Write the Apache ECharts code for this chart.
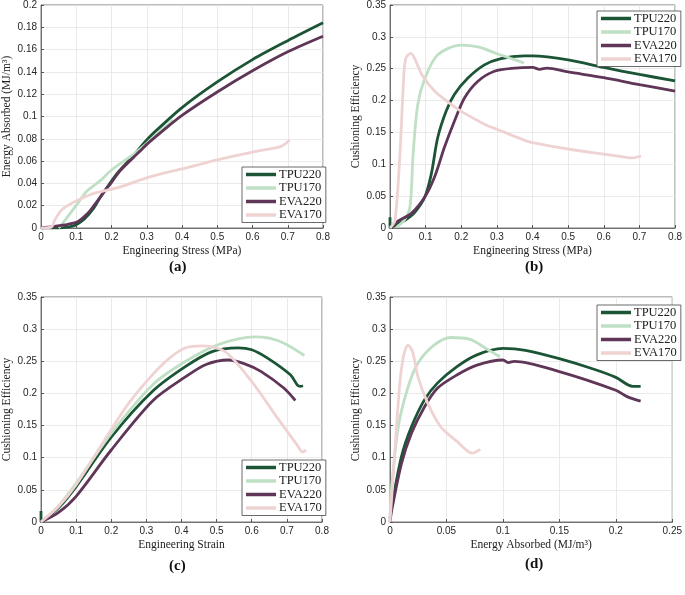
<!DOCTYPE html>
<html><head><meta charset="utf-8">
<script src="https://cdn.jsdelivr.net/npm/echarts@6/dist/echarts.min.js"></script>
<style>html,body{margin:0;padding:0;background:#fff}#c{width:685px;height:595px}</style>
</head><body><div id="c"></div>
<script>
const seriesNames = ['TPU220','TPU170','EVA220','EVA170'];
const panelLabels = ['(a)','(b)','(c)','(d)'];

// (a) Energy Absorbed vs Engineering Stress
const aTPU220 = [[0,0],[0.05,0],[0.08,0.001],[0.1,0.003],[0.123,0.008],[0.15,0.018],[0.169,0.028],[0.2,0.042],[0.215,0.0486],[0.262,0.065],[0.3,0.079],[0.336,0.09],[0.4,0.108],[0.5,0.131],[0.6,0.151],[0.7,0.168],[0.8,0.184]];
const aTPU170 = [[0.05,0],[0.058,0.0027],[0.08,0.012],[0.104,0.022],[0.13,0.033],[0.169,0.0427],[0.2,0.052],[0.262,0.066],[0.3,0.076],[0.327,0.084],[0.35,0.09],[0.375,0.097]];
const aEVA220 = [[0,0],[0.02,0.0008],[0.04,0.0015],[0.076,0.0033],[0.104,0.0056],[0.132,0.013],[0.15,0.02],[0.178,0.032],[0.2,0.041],[0.225,0.0516],[0.281,0.069],[0.3,0.075],[0.341,0.086],[0.4,0.101],[0.5,0.122],[0.6,0.141],[0.7,0.158],[0.8,0.172]];
const aEVA170 = [[0,0],[0.03,0.001],[0.039,0.0071],[0.058,0.016],[0.08,0.021],[0.104,0.0249],[0.15,0.031],[0.215,0.036],[0.3,0.045],[0.346,0.049],[0.4,0.053],[0.5,0.061],[0.6,0.068],[0.65,0.071],[0.68,0.073],[0.695,0.076],[0.705,0.079]];

// (b) Cushioning Efficiency vs Engineering Stress
const bTPU220 = [[0,0.017],[0,0],[0.02,0.006],[0.042,0.012],[0.07,0.025],[0.098,0.049],[0.116,0.085],[0.134,0.142],[0.158,0.184],[0.181,0.21],[0.218,0.235],[0.265,0.256],[0.311,0.266],[0.376,0.27],[0.4,0.27],[0.5,0.264],[0.6,0.252],[0.7,0.241],[0.8,0.231]];
const bTPU170 = [[0.02,0.002],[0.04,0.012],[0.056,0.033],[0.065,0.117],[0.078,0.194],[0.098,0.235],[0.134,0.272],[0.2,0.287],[0.25,0.284],[0.293,0.275],[0.34,0.266],[0.376,0.259]];
const bEVA220 = [[0,0],[0.02,0.01],[0.06,0.023],[0.098,0.049],[0.125,0.08],[0.153,0.127],[0.181,0.168],[0.209,0.204],[0.246,0.23],[0.293,0.246],[0.35,0.251],[0.4,0.252],[0.42,0.249],[0.44,0.251],[0.5,0.245],[0.6,0.236],[0.7,0.225],[0.8,0.215]];
const bEVA170 = [[0,0],[0.014,0.012],[0.028,0.117],[0.037,0.22],[0.044,0.266],[0.0585,0.274],[0.07,0.265],[0.09,0.24],[0.125,0.215],[0.172,0.194],[0.2,0.183],[0.265,0.163],[0.3,0.155],[0.376,0.138],[0.4,0.134],[0.5,0.124],[0.6,0.116],[0.65,0.112],[0.68,0.11],[0.705,0.113]];

// (c) Cushioning Efficiency vs Engineering Strain
const cTPU220 = [[0,0.017],[0,0],[0.05,0.022],[0.1,0.055],[0.2,0.132],[0.319,0.204],[0.412,0.242],[0.487,0.265],[0.561,0.271],[0.6,0.268],[0.645,0.255],[0.71,0.229],[0.73,0.213],[0.738,0.211],[0.746,0.212]];
const cTPU170 = [[0,0],[0.05,0.025],[0.1,0.06],[0.2,0.138],[0.319,0.214],[0.412,0.25],[0.505,0.276],[0.608,0.288],[0.65,0.286],[0.692,0.278],[0.75,0.259]];
const cEVA220 = [[0,0],[0.05,0.015],[0.1,0.04],[0.2,0.112],[0.319,0.189],[0.412,0.226],[0.47,0.245],[0.533,0.252],[0.58,0.246],[0.627,0.234],[0.692,0.208],[0.724,0.189]];
const cEVA170 = [[0,0],[0.05,0.024],[0.1,0.058],[0.2,0.144],[0.25,0.185],[0.319,0.23],[0.366,0.255],[0.412,0.271],[0.459,0.274],[0.524,0.265],[0.599,0.219],[0.673,0.162],[0.729,0.12],[0.745,0.109],[0.755,0.112]];

// (d) Cushioning Efficiency vs Energy Absorbed
const dTPU220 = [[0,0.005],[0.0015,0.024],[0.0102,0.102],[0.019,0.148],[0.0305,0.19],[0.042,0.216],[0.0596,0.242],[0.077,0.26],[0.1,0.27],[0.12,0.267],[0.15,0.254],[0.18,0.238],[0.2,0.225],[0.215,0.211],[0.222,0.211]];
const dTPU170 = [[0,0.01],[0.0015,0.055],[0.0073,0.148],[0.016,0.21],[0.0247,0.247],[0.039,0.275],[0.0538,0.287],[0.071,0.284],[0.085,0.27],[0.0974,0.257]];
const dEVA220 = [[0,0],[0.0015,0.018],[0.0102,0.091],[0.019,0.138],[0.0305,0.179],[0.042,0.208],[0.0596,0.229],[0.077,0.244],[0.1,0.252],[0.105,0.248],[0.11,0.25],[0.15,0.234],[0.2,0.205],[0.21,0.195],[0.222,0.188]];
const dEVA170 = [[0,0],[0.0044,0.112],[0.0087,0.216],[0.012,0.258],[0.016,0.275],[0.02,0.265],[0.0247,0.226],[0.0334,0.185],[0.045,0.148],[0.0596,0.125],[0.0727,0.107],[0.08,0.113]];

const xNames = ['Engineering Stress (MPa)','Engineering Stress (MPa)','Engineering Strain','Energy Absorbed (MJ/m\u00B3)'];
const yNames = ['Energy Absorbed (MJ/m\u00B3)','Cushioning Efficiency','Cushioning Efficiency','Cushioning Efficiency'];
const xMax = [0.8,0.8,0.8,0.25], xInt = [0.1,0.1,0.1,0.05];
const yMax = [0.2,0.35,0.35,0.35], yInt = [0.02,0.05,0.05,0.05];

const panelData = [
  [aTPU220,aTPU170,aEVA220,aEVA170],
  [bTPU220,bTPU170,bEVA220,bEVA170],
  [cTPU220,cTPU170,cEVA220,cEVA170],
  [dTPU220,dTPU170,dEVA220,dEVA170]
];
const colors = ['#1b5536','#bfe0c4','#5f3657','#efd3d3'];

const grids = [
  {left:36, top:3, width:287, height:225},
  {left:390, top:3, width:287, height:225},
  {left:36, top:297, width:286, height:225},
  {left:390, top:297, width:287, height:225}
];
const legendPos = [
  {left:242, top:167},
  {left:597, top:11},
  {left:242, top:460},
  {left:597, top:305}
];
const labelPos = [[181,268],[537,268],[181,567],[537,565]];

const serif = '"Liberation Serif","Times New Roman",serif';
const sans = '"Liberation Sans",Arial,sans-serif';
const fmt = v => String(+v.toFixed(3));

const option = {
  animation:false,
  backgroundColor:'#fff',
  grid: grids.map(g => Object.assign({show:true, borderColor:'#555', borderWidth:0.8, containLabel:false}, g)),
  xAxis: grids.map((g,i) => ({
    type:'value', gridIndex:i, min:0, max:xMax[i], interval:xInt[i],
    name:xNames[i], nameLocation:'middle', nameGap:17,
    nameTextStyle:{fontFamily:serif, fontSize:11.5, color:'#222'},
    axisLine:{onZero:false, lineStyle:{color:'#555', width:0.8}},
    axisTick:{inside:true, length:3, lineStyle:{color:'#555'}},
    axisLabel:{fontFamily:sans, fontSize:10, color:'#262626', margin:4, formatter:fmt},
    splitLine:{show:true, lineStyle:{color:'#e4e4e4', width:0.8}}
  })),
  yAxis: grids.map((g,i) => ({
    type:'value', gridIndex:i, min:0, max:yMax[i], interval:yInt[i],
    name:yNames[i], nameLocation:'middle', nameGap:28, nameRotate:90,
    nameTextStyle:{fontFamily:serif, fontSize:11.5, color:'#222'},
    axisLine:{onZero:false, lineStyle:{color:'#555', width:0.8}},
    axisTick:{inside:true, length:3, lineStyle:{color:'#555'}},
    axisLabel:{fontFamily:sans, fontSize:10, color:'#262626', margin:4, formatter:fmt},
    splitLine:{show:true, lineStyle:{color:'#e4e4e4', width:0.8}}
  })),
  legend: legendPos.map(p => ({
    left:p.left, top:p.top, orient:'vertical', data:seriesNames,
    icon:'rect', itemWidth:30, itemHeight:3.5, itemGap:0.5,
    backgroundColor:'#fff', borderColor:'#444', borderWidth:0.8, padding:[1,4,1,4],
    textStyle:{fontFamily:serif, fontSize:12.5, lineHeight:12, color:'#222', padding:[0,0,0,-2]},
    selectedMode:false
  })),
  series: [],
  graphic: labelPos.map((p,i) => ({
    type:'text', left:p[0]-12, top:p[1]-8,
    style:{text:panelLabels[i], font:'bold 15px '+serif, fill:'#111'}
  }))
};
panelData.forEach((arr,pi) => {
  arr.forEach((d,si) => {
    option.series.push({
      type:'line', name:seriesNames[si], xAxisIndex:pi, yAxisIndex:pi,
      data:d, showSymbol:false, symbol:'none', smooth:0.3,
      lineStyle:{color:colors[si], width:2.8}, itemStyle:{color:colors[si]},
      z:2+si
    });
  });
});
const chart = echarts.init(document.getElementById('c'), null, {renderer:'canvas'});
chart.setOption(option);
</script>
</body></html>
